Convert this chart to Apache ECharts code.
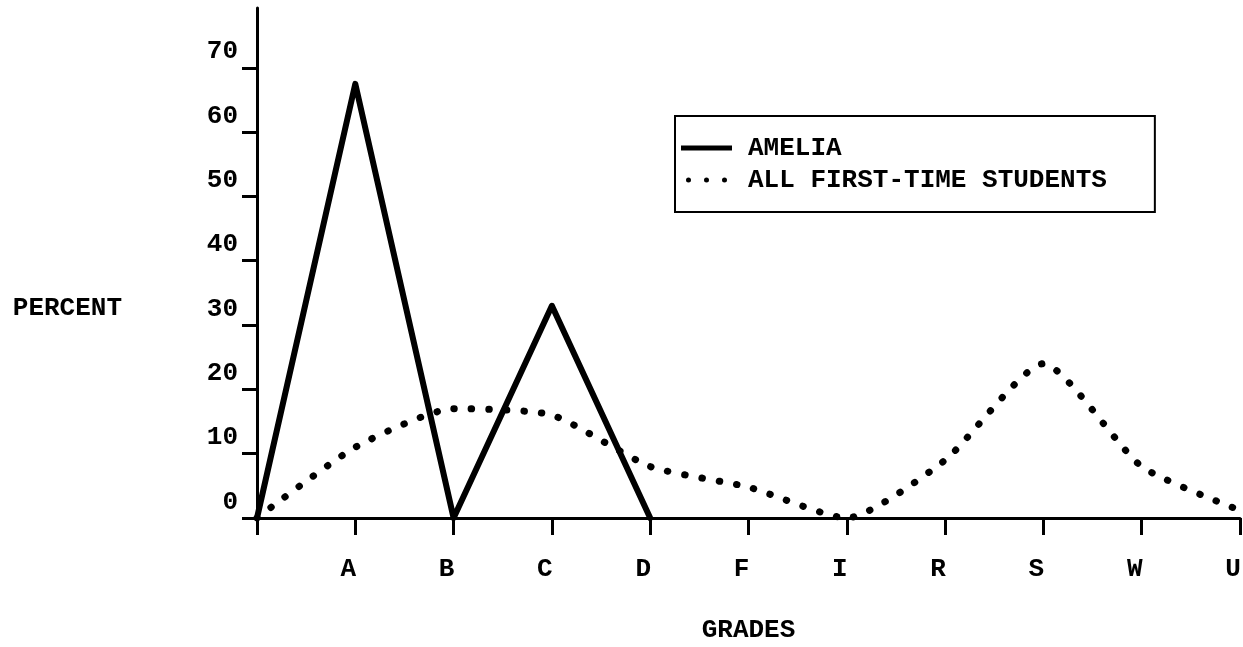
<!DOCTYPE html>
<html>
<head>
<meta charset="utf-8">
<script src="https://cdn.jsdelivr.net/npm/echarts@6/dist/echarts.min.js"></script>
<style>
html,body{margin:0;padding:0;background:#fff;}
#c{width:1243px;height:647px;}
</style>
</head>
<body>
<div id="c"></div>
<script>
var categories = ['', 'A', 'B', 'C', 'D', 'F', 'I', 'R', 'S', 'W', 'U'];
var amelia = [0, 67.5, 0, 33, 0, null, null, null, null, null, null];
var allFirstTime = [0, 11, 17, 16, 8, 4.8, 0, 9, 24, 8, 1.2];
var yTicks = [0, 10, 20, 30, 40, 50, 60, 70];
var seriesNames = ['AMELIA', 'ALL FIRST-TIME STUDENTS'];

var FONT = '"Liberation Mono", "DejaVu Sans Mono", monospace';
var WEIGHT = 'bold';
var chart = echarts.init(document.getElementById('c'));
chart.setOption({
  animation: false,
  backgroundColor: '#fff',
  textStyle: { fontFamily: FONT, color: '#000' },
  grid: { left: 257, right: 3, top: 8, bottom: 129, containLabel: false, outerBoundsMode: 'none' },
  legend: {
    left: 675, top: 116,
    orient: 'vertical',
    data: [
      { name: seriesNames[0], icon: 'path://M0,0h51v5h-51z' },
      { name: seriesNames[1], icon: 'path://M0,2.5a2.5,2.5 0 1,0 5,0a2.5,2.5 0 1,0 -5,0zM18,2.5a2.5,2.5 0 1,0 5,0a2.5,2.5 0 1,0 -5,0zM36,2.5a2.5,2.5 0 1,0 5,0a2.5,2.5 0 1,0 -5,0z' }
    ],
    itemWidth: 55, itemHeight: 5, itemGap: 6,
    padding: [19, 48, 19, 6],
    borderColor: '#000', borderWidth: 2,
    textStyle: { fontFamily: FONT, fontWeight: WEIGHT, fontSize: 26, color: '#000', padding: [0, 0, 0, 9] }
  },
  xAxis: {
    type: 'category',
    data: categories,
    boundaryGap: false,
    name: 'GRADES',
    nameLocation: 'middle',
    nameGap: 99,
    nameTextStyle: { fontFamily: FONT, fontWeight: WEIGHT, fontSize: 26, color: '#000' },
    axisLine: { lineStyle: { color: '#000', width: 3 } },
    axisTick: { show: true, length: 17, lineStyle: { color: '#000', width: 3 }, interval: 0 },
    axisLabel: { interval: 0, margin: 38, fontFamily: FONT, fontWeight: WEIGHT, fontSize: 26, color: '#000', padding: [0, 14, 0, 0] },
    splitLine: { show: false }
  },
  yAxis: {
    type: 'value',
    min: 0, max: 79.3,
    name: 'PERCENT',
    nameLocation: 'middle',
    nameRotate: 0,
    nameGap: 135,
    nameTextStyle: { fontFamily: FONT, fontWeight: WEIGHT, fontSize: 26, color: '#000', verticalAlign: 'top', lineHeight: 90 },
    axisLine: { show: true, lineStyle: { color: '#000', width: 3 } },
    axisTick: { show: true, length: 15, lineStyle: { color: '#000', width: 3 }, customValues: yTicks },
    axisLabel: {
      customValues: yTicks,
      margin: 19,
      fontFamily: FONT, fontWeight: WEIGHT, fontSize: 26, color: '#000',
      verticalAlign: 'bottom', lineHeight: 32
    },
    splitLine: { show: false }
  },
  series: [
    {
      name: seriesNames[0],
      type: 'line',
      data: amelia,
      symbol: 'none',
      lineStyle: { color: '#000', width: 6, join: 'round', cap: 'round' },
      itemStyle: { color: '#000' },
      z: 3
    },
    {
      name: seriesNames[1],
      type: 'line',
      data: allFirstTime,
      symbol: 'none',
      smooth: 0.2,
      lineStyle: { color: '#000', width: 7, type: [0.5, 17], cap: 'round' },
      itemStyle: { color: '#000' },
      z: 2
    }
  ]
});
</script>
</body>
</html>
